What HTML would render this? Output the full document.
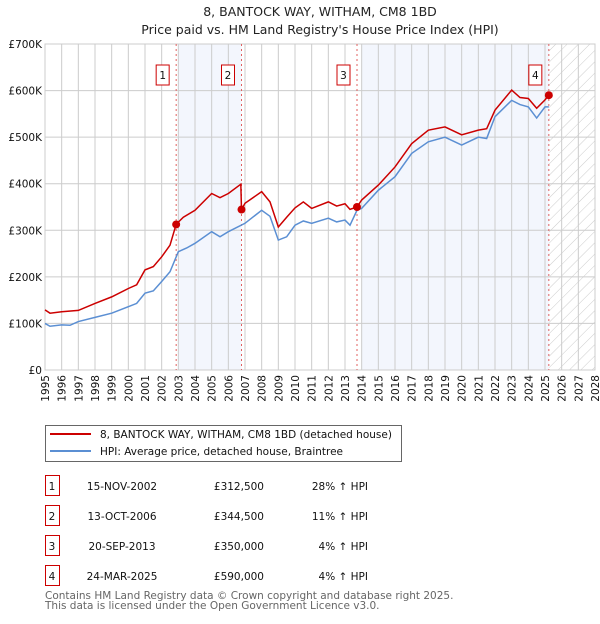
<!DOCTYPE html>
<html><head><meta charset="utf-8"><style>
body{margin:0;background:#fff;font-family:"DejaVu Sans","Liberation Sans",sans-serif;}
svg text{font-family:"DejaVu Sans","Liberation Sans",sans-serif;}
</style></head><body>
<svg id="c" width="600" height="620" viewBox="0 0 600 620" xmlns="http://www.w3.org/2000/svg">
<defs><pattern id="hatch" width="8" height="8" patternUnits="userSpaceOnUse" patternTransform="rotate(45)"><line x1="0" y1="0" x2="0" y2="8" stroke="#ccc" stroke-width="1"/></pattern></defs>
<text x="320" y="16" font-size="12.5" text-anchor="middle" fill="#222">8, BANTOCK WAY, WITHAM, CM8 1BD</text>
<text x="320" y="34" font-size="12.5" text-anchor="middle" fill="#222">Price paid vs. HM Land Registry's House Price Index (HPI)</text>
<g id="plot"></g>
<g>
<rect x="45.5" y="425.5" width="356" height="36" fill="#fff" stroke="#666"/>
<line x1="50" y1="434" x2="91" y2="434" stroke="#cc0000" stroke-width="2"/>
<text x="100" y="438" font-size="10.5" fill="#111">8, BANTOCK WAY, WITHAM, CM8 1BD (detached house)</text>
<line x1="50" y1="451" x2="91" y2="451" stroke="#5b8fd3" stroke-width="2"/>
<text x="100" y="455" font-size="10.5" fill="#111">HPI: Average price, detached house, Braintree</text>
</g>
<g id="table" font-size="10.5" fill="#111"></g>
<text x="45" y="599" font-size="10.5" fill="#666">Contains HM Land Registry data © Crown copyright and database right 2025.</text>
<text x="45" y="609" font-size="10.5" fill="#666">This data is licensed under the Open Government Licence v3.0.</text>
</svg>
<script>
const hpiYears=[1995,1995.3,1996,1996.5,1997,1998,1999,2000,2000.5,2001,2001.5,2002,2002.5,2003,2003.5,2004,2005,2005.5,2006,2007,2008,2008.5,2009,2009.5,2010,2010.5,2011,2012,2012.5,2013,2013.3,2013.72,2014,2015,2016,2017,2018,2019,2020,2021,2021.5,2022,2023,2023.5,2024,2024.5,2025,2025.23];
const hpiValues=[100,94,97,96,104,113,122,136,143,165,170,190,211,254,262,272,297,286,297,315,343,330,279,286,311,320,315,326,318,322,311,343,347,386,415,465,490,500,483,500,497,544,579,570,565,541,565,565];
const ppYears=[1995,1995.3,1996,1997,1998,1999,2000,2000.5,2001,2001.5,2002,2002.5,2002.87,2003.3,2004,2005,2005.5,2006,2006.75,2006.79,2007,2008,2008.5,2009,2009.5,2010,2010.5,2011,2012,2012.5,2013,2013.3,2013.72,2014,2015,2016,2017,2018,2019,2020,2021,2021.5,2022,2023,2023.5,2024,2024.5,2025,2025.23];
const ppValues=[129,122,125,128,143,157,175,183,215,222,243,268,313,328,343,379,370,379,399,344.5,358,383,361,307,328,348,361,347,361,352,357,345,350,365,397,436,486,515,522,505,515,518,558,601,585,583,562,580,590];
const saleYears=[2002.87,2006.79,2013.72,2025.23];
const saleValues=[312.5,344.5,350,590];
const saleLabels=["1","2","3","4"];
const saleDates=["15-NOV-2002","13-OCT-2006","20-SEP-2013","24-MAR-2025"];
const salePrices=["£312,500","£344,500","£350,000","£590,000"];
const saleHpi=["28% ↑ HPI","11% ↑ HPI","4% ↑ HPI","4% ↑ HPI"];
const yTicks=[0,100,200,300,400,500,600,700];
const yTickLabels=["£0","£100K","£200K","£300K","£400K","£500K","£600K","£700K"];
const shadeRanges=[[2003,2006.79],[2014,2025.23]];

const X0=45,X1=595,Y0=370,Y1=44;
const x=y=>X0+(y-1995)/(2028-1995)*(X1-X0);
const yv=v=>Y0-v/700*(Y0-Y1);
const NS="http://www.w3.org/2000/svg";
const plot=document.getElementById('plot');
function mk(tag,attrs,parent){const e=document.createElementNS(NS,tag);for(const k in attrs)e.setAttribute(k,attrs[k]);(parent||plot).appendChild(e);return e;}
shadeRanges.forEach(r=>{const e=mk('rect',{x:x(r[0]),y:Y1,width:x(r[1])-x(r[0]),height:Y0-Y1,fill:'#f3f6fd'});

});
const h=mk('rect',{x:x(2025.23),y:Y1,width:X1-x(2025.23),height:Y0-Y1,fill:'url(#hatch)'});


for(let yr=1995;yr<=2028;yr++){
 const g=mk('line',{x1:x(yr),x2:x(yr),y1:Y1,y2:Y0,stroke:'#ccc','stroke-width':1});
 
 
 const t=mk('text',{x:0,y:0,'font-size':10.5,fill:'#111','text-anchor':'end',transform:`translate(${x(yr)+4},375) rotate(-90)`});
 t.textContent=yr;
 
 
}
yTicks.forEach((v,i)=>{
 const g=mk('line',{x1:X0,x2:X1,y1:yv(v),y2:yv(v),stroke:'#ccc','stroke-width':1});
 
 
 const t=mk('text',{x:X0-3,y:yv(v)+4,'font-size':10.5,fill:'#111','text-anchor':'end'});
 t.textContent=yTickLabels[i];
 
 
});
const b=mk('rect',{x:X0,y:Y1,width:X1-X0,height:Y0-Y1,fill:'none',stroke:'#ccc'});


saleYears.forEach((s,i)=>{
 const l=mk('line',{x1:x(s),x2:x(s),y1:Y1,y2:Y0,stroke:'#e06060','stroke-dasharray':'2,3','stroke-width':1});
 
 
 const bx=mk('rect',{x:x(s)-20,y:65,width:13,height:20,fill:'#fff',stroke:'#cc0000'});
 
 
 const t=mk('text',{x:x(s)-13.5,y:79,'font-size':10.5,'text-anchor':'middle',fill:'#111'});
 t.textContent=saleLabels[i];
 
 
});
const hp=mk('polyline',{points:hpiYears.map((y,i)=>x(y)+','+yv(hpiValues[i])).join(' '),fill:'none',stroke:'#5b8fd3','stroke-width':1.5});


const pp=mk('polyline',{points:ppYears.map((y,i)=>x(y)+','+yv(ppValues[i])).join(' '),fill:'none',stroke:'#cc0000','stroke-width':1.5});


saleYears.forEach((s,i)=>{
 const c=mk('circle',{cx:x(s),cy:yv(saleValues[i]),r:4,fill:'#cc0000'});
 
 
});
const tb=document.getElementById('table');
saleLabels.forEach((l,i)=>{
 const y0=475+i*30;
 const r=mk('rect',{x:45.5,y:y0+0.5,width:14,height:20,fill:'#fff',stroke:'#cc0000'},tb);
 
 
 const cells=[[52,l,'middle'],[122,saleDates[i],'middle'],[264,salePrices[i],'end'],[368,saleHpi[i],'end']];
 cells.forEach(c=>{const t=mk('text',{x:c[0],y:y0+15,'text-anchor':c[2]},tb);t.textContent=c[1];
 
 });
});
</script>
</body></html>
